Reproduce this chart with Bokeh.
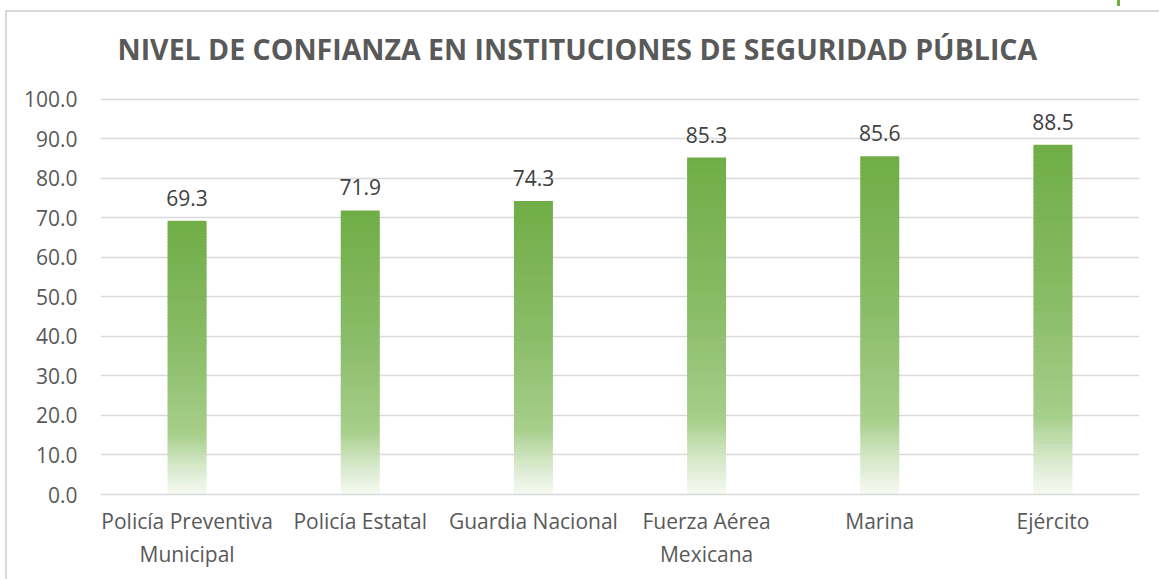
from bokeh.plotting import figure
from bokeh.models import Range1d, FactorRange, FixedTicker, PrintfTickFormatter, ColumnDataSource
from bokeh.core.properties import value
from bokeh.embed import file_html
from bokeh.resources import INLINE

# ---- data ----
categories = ["Policía Preventiva\nMunicipal", "Policía Estatal", "Guardia Nacional",
              "Fuerza Aérea\nMexicana", "Marina", "Ejército"]
values = [69.3, 71.9, 74.3, 85.3, 85.6, 88.5]
y_ticks = [0, 10, 20, 30, 40, 50, 60, 70, 80, 90, 100]
title_text = "NIVEL DE CONFIANZA EN INSTITUCIONES DE SEGURIDAD PÚBLICA"

FONT = "Open Sans"
TXT = "#595959"
GRID = "#D9D9D9"

bg = ("linear-gradient(#D9D9D9,#D9D9D9) 5px 10px / 2px 100% no-repeat, "
      "linear-gradient(#D9D9D9,#D9D9D9) 5px 10px / 100% 2px no-repeat, "
      "linear-gradient(#70AD47,#70AD47) 1117px 0px / 3px 6px no-repeat, white")

p = figure(width=1159, height=579, output_backend="svg", toolbar_location=None,
           x_range=FactorRange(*categories, range_padding=0.0),
           y_range=Range1d(0, 101.5),
           title=title_text,
           min_border_left=100, min_border_right=20, min_border_top=93, min_border_bottom=85,
           styles={"background": bg})
p.outline_line_color = None
p.background_fill_color = "white"
p.border_fill_color = None

p.title.align = "left"
p.title.offset = 17
p.title.text_font = FONT
p.title.text_font_size = "28.5px"
p.title.text_font_style = "bold"
p.title.text_color = TXT
p.title.standoff = 51

# gradient bars (per-bar vertical gradient drawn as thin slices)
stops = [(0.0, (112, 173, 71)), (0.45, (137, 188, 103)), (0.78, (167, 207, 139)),
         (0.88, (208, 229, 194)), (1.0, (247, 250, 244))]

def color_at(f):
    for (f0, c0), (f1, c1) in zip(stops[:-1], stops[1:]):
        if f <= f1:
            t = (f - f0) / (f1 - f0) if f1 > f0 else 0
            return "#%02x%02x%02x" % tuple(int(round(a + (b - a) * t)) for a, b in zip(c0, c1))
    return "#%02x%02x%02x" % stops[-1][1]

n = 90
xs, tops, bottoms, cols = [], [], [], []
for cat, v in zip(categories, values):
    for j in range(n):
        ftop = j / n
        fbot = (j + 1) / n
        top = v * (1 - ftop)
        bot = max(0.0, v * (1 - fbot) - 0.25)
        xs.append(cat)
        tops.append(top)
        bottoms.append(bot)
        cols.append(color_at((ftop + fbot) / 2))
src = ColumnDataSource(dict(x=xs, top=tops, bottom=bottoms, color=cols))
p.vbar(x="x", top="top", bottom="bottom", width=0.225, source=src,
       fill_color="color", line_color=None)

# data labels
lab = ColumnDataSource(dict(x=categories, y=values, t=["%.1f" % v for v in values]))
p.text(x="x", y="y", text="t", source=lab, text_align="center", text_baseline="bottom",
       y_offset=-15, text_font=value(FONT), text_font_size="21px", text_color="#404040")

# axes
p.yaxis.ticker = FixedTicker(ticks=y_ticks)
p.yaxis.formatter = PrintfTickFormatter(format="%.1f")
p.yaxis.axis_line_color = None
p.yaxis.major_tick_line_color = None
p.yaxis.major_tick_out = 0
p.yaxis.minor_tick_line_color = None
p.yaxis.major_label_standoff = 23
p.yaxis.major_label_text_font = FONT
p.yaxis.major_label_text_font_size = "21px"
p.yaxis.major_label_text_color = TXT

p.xaxis.axis_line_color = GRID
p.xaxis.axis_line_width = 1.5
p.xaxis.major_tick_line_color = None
p.xaxis.major_tick_out = 0
p.xaxis.minor_tick_line_color = None
p.xaxis.major_label_standoff = 12
p.xaxis.major_label_text_font = FONT
p.xaxis.major_label_text_font_size = "21px"
p.xaxis.major_label_text_color = TXT

p.xgrid.grid_line_color = None
p.ygrid.grid_line_color = GRID
p.ygrid.grid_line_width = 1.5

open("out.html", "w").write(file_html(p, INLINE))
